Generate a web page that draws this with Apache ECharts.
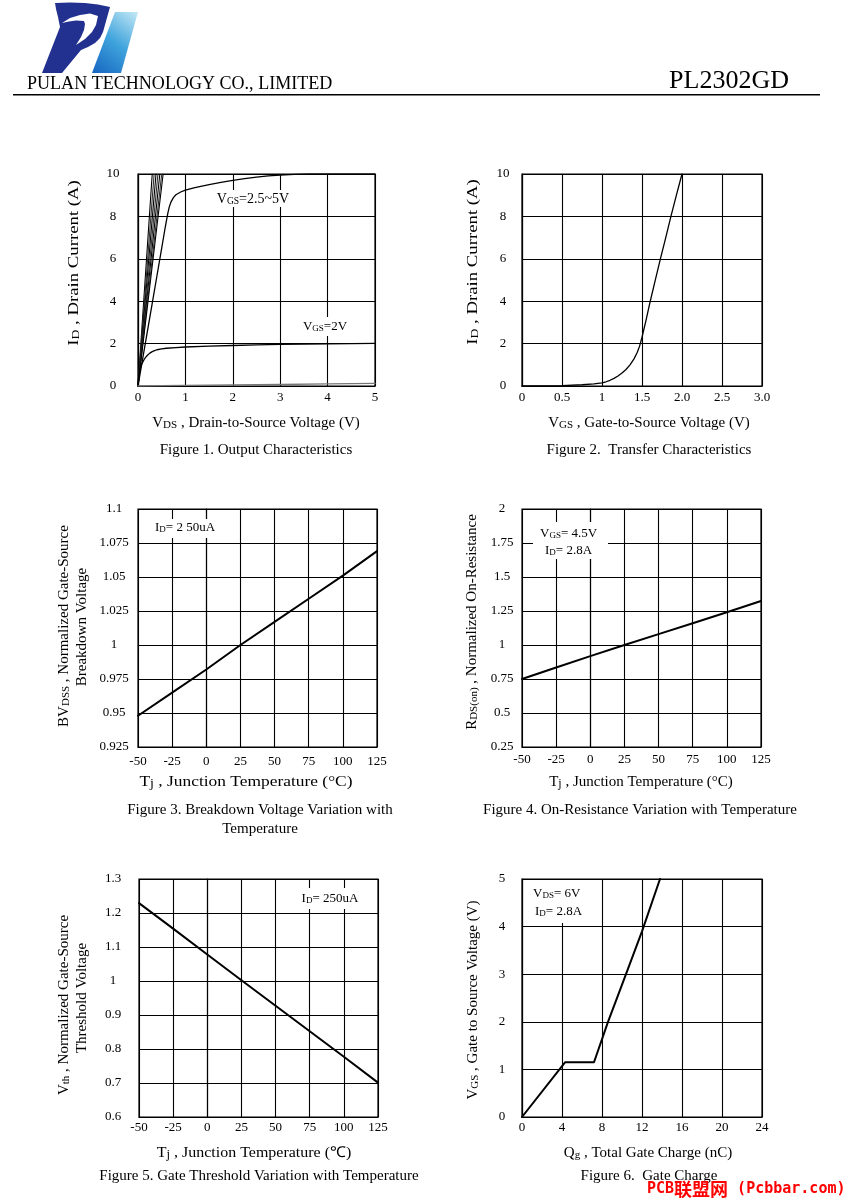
<!DOCTYPE html>
<html><head><meta charset="utf-8">
<script src="https://cdn.jsdelivr.net/npm/echarts@6/dist/echarts.min.js"></script>
<style>html,body{margin:0;padding:0;background:#fff}#c{width:849px;height:1203px}</style>
</head><body><div id="c"></div>
<script>
// ---------- DATA ----------
// Figure 1: Output characteristics (VDS, ID)
const fig1SteepLines = [
  [[0,0],[0.30,10]],
  [[0,0],[0.34,10]],
  [[0,0],[0.38,10]],
  [[0,0],[0.42,10]],
  [[0,0],[0.46,10]],
  [[0,0],[0.50,10]],
  [[0,0],[0.53,10]]
];
const fig1Vgs25 = [[0,0],[0.1,1.3],[0.2,2.6],[0.3,3.9],[0.4,5.2],[0.5,6.5],[0.56,7.3],[0.6,7.8],[0.63,8.15],[0.66,8.45],[0.7,8.7],[0.75,8.9],[0.8,9.02],[0.9,9.15],[1.0,9.24],[1.2,9.36],[1.5,9.5],[1.75,9.6],[2.0,9.7],[2.25,9.78],[2.5,9.85],[2.75,9.91],[3.0,9.95],[3.3,9.98],[3.6,10],[5,10]];
const fig1Vgs2 = [[0,0],[0.01,0.3],[0.02,0.5],[0.04,0.75],[0.06,0.92],[0.08,1.04],[0.1,1.13],[0.13,1.25],[0.16,1.35],[0.2,1.45],[0.25,1.55],[0.3,1.62],[0.35,1.67],[0.4,1.71],[0.5,1.75],[0.6,1.78],[0.8,1.81],[1.0,1.84],[1.5,1.88],[2,1.91],[2.5,1.94],[3,1.96],[4,1.99],[5,2.01]];
const fig1Vgs15 = [[0,0],[1,0.03],[2,0.05],[3,0.07],[4,0.1],[5,0.12]];
// Figure 2: Transfer characteristics (VGS, ID)
const fig2Transfer = [[0,0],[0.25,0.005],[0.5,0.02],[0.75,0.06],[0.9,0.1],[1.0,0.15],[1.05,0.2],[1.1,0.27],[1.15,0.36],[1.2,0.47],[1.25,0.61],[1.3,0.78],[1.35,1.0],[1.4,1.28],[1.44,1.58],[1.47,1.88],[1.5,2.3],[1.55,3.1],[1.6,3.95],[1.66,4.9],[1.73,6.0],[1.8,7.05],[1.86,7.98],[1.93,9.0],[2.0,10]];
// Figure 3: BVDSS vs Tj
const fig3Bvdss = [[-50,0.948],[-25,0.965],[0,0.982],[25,1.0],[50,1.017],[75,1.034],[100,1.051],[125,1.069]];
// Figure 4: RDS(on) vs Tj
const fig4Rds = [[-50,0.75],[-25,0.835],[0,0.918],[25,1.0],[50,1.08],[75,1.16],[100,1.241],[125,1.324]];
// Figure 5: Vth vs Tj
const fig5Vth = [[-50,1.229],[-25,1.154],[0,1.078],[25,1.002],[50,0.927],[75,0.852],[100,0.777],[125,0.701]];
// Figure 6: Gate charge (Qg, VGS)
const fig6Qg = [[0,0],[4.3,1.15],[7.2,1.15],[8.6,2.0],[10.4,3.0],[12.0,3.9],[13.8,5.0]];

// Tick labels
const fig1XLabels = ['0','1','2','3','4','5'];
const fig1YLabels = ['0','2','4','6','8','10'];
const fig2XLabels = ['0','0.5','1','1.5','2.0','2.5','3.0'];
const fig2YLabels = ['0','2','4','6','8','10'];
const tempLabels  = ['-50','-25','0','25','50','75','100','125'];
const fig3YLabels = ['0.925','0.95','0.975','1','1.025','1.05','1.075','1.1'];
const fig4YLabels = ['0.25','0.5','0.75','1','1.25','1.5','1.75','2'];
const fig5YLabels = ['0.6','0.7','0.8','0.9','1','1.1','1.2','1.3'];
const fig6XLabels = ['0','4','8','12','16','20','24'];
const fig6YLabels = ['0','1','2','3','4','5'];

// ---------- LAYOUT ----------
const FONT = '"Liberation Serif","Times New Roman",serif';
const grids = [
  {left:138, top:174, width:237, height:212},
  {left:522, top:174, width:240, height:212},
  {left:138, top:509, width:239, height:238},
  {left:522, top:509, width:239, height:238},
  {left:139, top:879, width:239, height:238},
  {left:522, top:879, width:240, height:238}
].map(g => Object.assign(g, {show:true, borderColor:'#000', borderWidth:1.2, containLabel:false}));

function axis(idx, min, max, interval, labels, margin, isY) {
  const a = {
    type:'value', gridIndex:idx, min, max, interval,
    axisLine:{show:true, lineStyle:{color:'#000', width:1.2}},
    axisTick:{show:false},
    splitLine:{show:true, lineStyle:{color:'#000', width:1.1}},
    axisLabel:{
      color:'#000', fontFamily:FONT, fontSize:13, margin,
      formatter: v => { const k = Math.round((v-min)/interval); return labels[k] !== undefined ? labels[k] : String(v); }
    }
  };
  if (isY) a.axisLabel.align = 'center';
  return a;
}
const xAxes = [
  axis(0, 0, 5, 1, fig1XLabels, 5),
  axis(1, 0, 3, 0.5, fig2XLabels, 5),
  axis(2, -50, 125, 25, tempLabels, 8),
  axis(3, -50, 125, 25, tempLabels, 6),
  axis(4, -50, 125, 25, tempLabels, 4),
  axis(5, 0, 24, 4, fig6XLabels, 4)
];
const yAxes = [
  axis(0, 0, 10, 2, fig1YLabels, 25, true),
  axis(1, 0, 10, 2, fig2YLabels, 19, true),
  axis(2, 0.925, 1.1, 0.025, fig3YLabels, 24, true),
  axis(3, 0.25, 2, 0.25, fig4YLabels, 20, true),
  axis(4, 0.6, 1.3, 0.1, fig5YLabels, 26, true),
  axis(5, 0, 5, 1, fig6YLabels, 20, true)
];

function line(idx, data, width, color) {
  return {type:'line', xAxisIndex:idx, yAxisIndex:idx, data, showSymbol:false, symbol:'none',
    smooth:false, silent:true, clip:true,
    lineStyle:{color: color || '#000', width, join:'round', cap:'round'}};
}
const series = [];
fig1SteepLines.forEach((d,i) => series.push(line(0, d, 1.1, i%2 ? '#333' : '#000')));
series.push(line(0, fig1Vgs25, 1.3, '#000'));
series.push(line(0, fig1Vgs2, 1.3, '#000'));
series.push(line(0, fig1Vgs15, 1.3, '#777'));
series.push(line(1, fig2Transfer, 1.3, '#000'));
series.push(line(2, fig3Bvdss, 2, '#000'));
series.push(line(3, fig4Rds, 2, '#000'));
series.push(line(4, fig5Vth, 2, '#000'));
series.push(line(5, fig6Qg, 2, '#000'));

// ---------- TEXT ----------
function richDef(n, s) {
  return {
    n:{fontSize:n, fontFamily:FONT, fill:'#000', color:'#000', verticalAlign:'bottom'},
    s:{fontSize:s, fontFamily:FONT, fill:'#000', color:'#000', verticalAlign:'bottom'}
  };
}
function txt(x, y, text, opts) {
  opts = opts || {};
  const n = opts.size || 15, s = opts.sub || Math.round(n*0.7);
  const align = opts.align || 'center';
  return {type:'text', x, y, z:60, rotation: opts.rot || 0, scaleX: opts.sx || 1,
    style:{text, font: n + 'px ' + FONT, fill:'#000',
      align, textAlign:align, verticalAlign:'middle', textVerticalAlign:'middle',
      rich: richDef(n, s)}};
}
function box(x, y, w, h) {
  return {type:'rect', z:55, shape:{x, y, width:w, height:h}, style:{fill:'#fff'}};
}
const R = Math.PI/2;
const elements = [
  // header logo
  {type:'polygon', z:50, shape:{points:[[115,12],[138,12],[121,73],[92,73]]},
    style:{fill:{type:'linear', x:0, y:1, x2:1, y2:0, colorStops:[{offset:0,color:'#1565c0'},{offset:0.5,color:'#3fa3dc'},{offset:1,color:'#c4e9f6'}]}}},
  {type:'polygon', z:51, shape:{points:[[55,3],[70,2.5],[85,3],[98,4.5],[110,7],[103,32],[100,38],[95,43],[88,47],[81,50],[62,73],[42,73],[60,27],[58,17],[56,9]]},
    style:{fill:'#22308f'}},
  {type:'polygon', z:52, shape:{points:[[62,23],[70,18],[80,15],[90,13.5],[98,16],[96,25],[92,32],[85,39],[76,45],[81,37],[84,30],[85,24],[84,21],[76,20.5],[69,21.5]]},
    style:{fill:'#fff'}},
  {type:'text', x:27, y:84, z:60, scaleX:0.95,
    style:{text:'PULAN TECHNOLOGY CO., LIMITED', font:'19px ' + FONT, fill:'#000', align:'left', textAlign:'left', verticalAlign:'middle', textVerticalAlign:'middle'}},
  {type:'text', x:789, y:81, z:60,
    style:{text:'PL2302GD', font:'26px ' + FONT, fill:'#000', align:'right', textAlign:'right', verticalAlign:'middle', textVerticalAlign:'middle'}},
  {type:'rect', z:60, shape:{x:13, y:94, width:807, height:1.5}, style:{fill:'#000'}},

  // Figure 1
  box(213, 190, 81, 17), txt(253, 199, '{n|V}{s|GS}{n|=2.5~5V}', {size:14, sub:9.5}),
  box(299, 317, 52, 19), txt(325, 327, '{n|V}{s|GS}{n|=2V}', {size:13, sub:9}),
  txt(256, 423, '{n|V}{s|DS}{n| , Drain-to-Source Voltage (V)}', {size:15, sub:11}),
  txt(74, 263, '{n|I}{s|D}{n| , Drain Current (A)}', {size:15, sub:11, rot:R, sx:1.25}),
  txt(256, 450, 'Figure 1. Output Characteristics', {size:15}),

  // Figure 2
  txt(649, 423, '{n|V}{s|GS}{n| , Gate-to-Source Voltage (V)}', {size:15, sub:11}),
  txt(473, 262, '{n|I}{s|D}{n| , Drain Current (A)}', {size:15, sub:11, rot:R, sx:1.25}),
  txt(649, 450, 'Figure 2.  Transfer Characteristics', {size:15}),

  // Figure 3
  box(150, 519, 70, 19), txt(185, 528, '{n|I}{s|D}{n|= 2 50uA}', {size:13, sub:9}),
  txt(246, 782, '{n|T}{s|j}{n| , Junction Temperature (°C)}', {size:15, sub:12, sx:1.16}),
  txt(64, 626, '{n|BV}{s|DSS}{n| , Normalized Gate-Source}', {size:15, sub:11, rot:R}),
  txt(82, 627, 'Breakdown Voltage', {size:15, rot:R}),
  txt(260, 810, 'Figure 3. Breakdown Voltage Variation with', {size:15}),
  txt(260, 829, 'Temperature', {size:15}),

  // Figure 4
  box(533, 522, 75, 37),
  txt(540, 534, '{n|V}{s|GS}{n|= 4.5V}', {size:13, sub:9, align:'left'}),
  txt(545, 551, '{n|I}{s|D}{n|= 2.8A}', {size:13, sub:9, align:'left'}),
  txt(641, 782, '{n|T}{s|j}{n| , Junction Temperature (°C)}', {size:15, sub:12}),
  txt(472, 622, '{n|R}{s|DS(on)}{n| , Normalized On-Resistance}', {size:15, sub:11, rot:R}),
  txt(640, 810, 'Figure 4. On-Resistance Variation with Temperature', {size:15}),

  // Figure 5
  box(296, 888, 68, 21), txt(330, 899, '{n|I}{s|D}{n|= 250uA}', {size:13, sub:9}),
  txt(254, 1153, '{n|T}{s|j}{n| , Junction Temperature (℃)}', {size:15, sub:12, sx:1.065}),
  txt(64, 1005, '{n|V}{s|th}{n| , Normalized Gate-Source}', {size:15, sub:11, rot:R}),
  txt(82, 998, 'Threshold Voltage', {size:15, rot:R}),
  txt(259, 1176, 'Figure 5. Gate Threshold Variation with Temperature', {size:15}),

  // Figure 6
  box(529, 880, 62, 43),
  txt(533, 894, '{n|V}{s|DS}{n|= 6V}', {size:13, sub:9, align:'left'}),
  txt(535, 912, '{n|I}{s|D}{n|= 2.8A}', {size:13, sub:9, align:'left'}),
  txt(648, 1153, '{n|Q}{s|g}{n| , Total Gate Charge (nC)}', {size:15, sub:11}),
  txt(473, 1000, '{n|V}{s|GS}{n| , Gate to Source Voltage (V)}', {size:15, sub:11, rot:R}),
  txt(649, 1176, 'Figure 6.  Gate Charge', {size:15}),

  // watermark
  {type:'text', x:647, y:1189, z:70,
    style:{text:'{m|PCB}{c|联盟网}{m| (Pcbbar.com)}', fill:'#ff0000', align:'left', textAlign:'left', verticalAlign:'middle', textVerticalAlign:'middle',
      rich:{
        m:{fontSize:15, fontFamily:'"DejaVu Sans Mono", monospace', fontWeight:'bold', fill:'#ff0000', color:'#ff0000'},
        c:{fontSize:18, fontFamily:'"Noto Sans CJK SC", sans-serif', fontWeight:'bold', fill:'#ff0000', color:'#ff0000'}
      }}}
];

const chart = echarts.init(document.getElementById('c'), null, {renderer:'canvas'});
chart.setOption({
  animation:false,
  backgroundColor:'#fff',
  grid:grids, xAxis:xAxes, yAxis:yAxes, series,
  graphic:{elements}
});
</script></body></html>
